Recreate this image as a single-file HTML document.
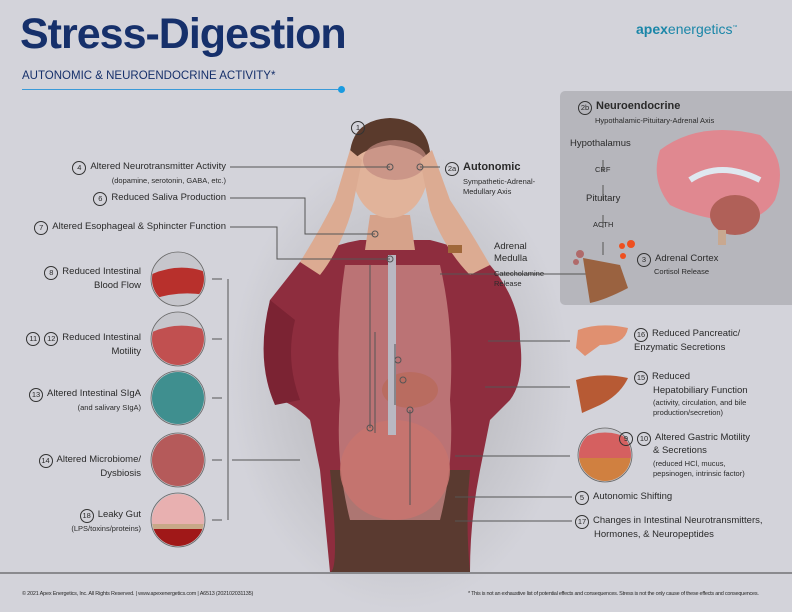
<!DOCTYPE html>
<html><head><meta charset="utf-8"><style>
body{margin:0;width:792px;height:612px;background:#d3d3da;font-family:"Liberation Sans",sans-serif;position:relative;overflow:hidden;color:#222}
.t{position:absolute;font-size:9.5px;line-height:11.5px;color:#2a2a2a;white-space:nowrap}
.s{font-size:7.5px;line-height:9.5px}
.r{text-align:right}
.n{display:inline-block;width:12px;height:12px;border:1px solid #333;border-radius:50%;font-size:7.5px;line-height:12px;text-align:center;margin-right:4px;vertical-align:-1px}
</style></head><body>
<div style="position:absolute;left:20px;top:10px;font-size:43px;font-weight:bold;color:#16306b;letter-spacing:-1px">Stress-Digestion</div>
<div style="position:absolute;left:22px;top:70px;font-size:11.5px;color:#16306b">AUTONOMIC &amp; NEUROENDOCRINE ACTIVITY*</div>
<div style="position:absolute;left:22px;top:89px;width:318px;height:1px;background:#3a9ad8"></div>
<div style="position:absolute;left:338px;top:86px;width:7px;height:7px;border-radius:50%;background:#1a9be0"></div>
<div style="position:absolute;left:636px;top:21px;font-size:14px;color:#1a86a8"><b>apex</b>energetics<sup style="font-size:5px">™</sup></div>
<div style="position:absolute;left:560px;top:91px;width:240px;height:214px;background:#b6b6bc;border-radius:5px"></div>

<svg width="792" height="612" style="position:absolute;left:0;top:0">
<defs><radialGradient id="sh" cx="50%" cy="50%" r="50%"><stop offset="0" stop-color="#888" stop-opacity=".5"/><stop offset="1" stop-color="#888" stop-opacity="0"/></radialGradient>
<clipPath id="c1"><circle cx="178" cy="279" r="26"/></clipPath>
<clipPath id="c2"><circle cx="178" cy="339" r="26"/></clipPath>
<clipPath id="c5"><circle cx="178" cy="520" r="26"/></clipPath>
<clipPath id="c6"><circle cx="605" cy="455" r="26"/></clipPath>
</defs>
<ellipse cx="400" cy="380" rx="170" ry="230" fill="url(#sh)"/>
<path d="M300 262 Q330 245 360 240 L430 240 Q470 250 490 265 Q520 300 520 340 Q525 380 510 400 L490 420 L480 470 Q470 520 470 572 L330 572 Q325 520 320 470 L310 420 Q290 400 275 400 Q260 360 270 300 Z" fill="#8e2d3e"/>
<path d="M270 300 Q255 360 275 405 L300 400 Q285 360 295 320 Z" fill="#7b2333"/>
<path d="M330 470 Q340 572 330 572 L470 572 Q465 520 470 470 Z" fill="#5a3a30"/>
<path d="M345 265 L440 265 Q455 330 450 400 Q455 460 440 520 L350 520 Q335 460 340 400 Q335 330 345 265Z" fill="#c98b88" opacity=".75"/>
<ellipse cx="395" cy="470" rx="55" ry="50" fill="#c8746f" opacity=".85"/>
<ellipse cx="410" cy="390" rx="28" ry="18" fill="#b96c60"/>
<rect x="388" y="255" width="8" height="180" fill="#b9b8c2"/>
<path d="M370 215 L410 215 L415 250 L365 250Z" fill="#d6a28a"/>
<ellipse cx="390" cy="170" rx="38" ry="48" fill="#e1b39a"/>
<path d="M350 170 Q345 120 390 118 Q435 120 430 170 Q428 150 390 145 Q352 150 350 170Z" fill="#5a3a2c"/>
<ellipse cx="395" cy="160" rx="32" ry="20" fill="#c28a80" opacity=".7"/>
<path d="M300 262 Q320 230 335 200 L350 150 L362 160 L352 210 Q340 250 320 275Z" fill="#dcab92"/>
<path d="M490 265 Q470 230 450 200 L432 150 L420 160 L430 210 Q445 250 470 275Z" fill="#dcab92"/>
<rect x="448" y="245" width="14" height="8" fill="#a0683a"/>
<rect x="0" y="572" width="792" height="2" fill="#8a8a8e"/>
<g stroke="#555" stroke-width="1" fill="none">
<path d="M230 167 H390"/><circle cx="390" cy="167" r="3"/>
<path d="M230 198 H305 V234 H375"/><circle cx="375" cy="234" r="3"/>
<path d="M230 227 H277 V259 H390"/><circle cx="390" cy="259" r="3"/>
<path d="M420 167 H440"/><circle cx="420" cy="167" r="3"/>
<path d="M370 265 V428"/><circle cx="370" cy="428" r="3"/>
<path d="M375 332 V433 M395 344 V405"/><circle cx="398" cy="360" r="3"/><circle cx="403" cy="380" r="3"/>
<path d="M410 410 V505"/><circle cx="410" cy="410" r="3"/>
<path d="M440 274 H594"/><circle cx="594" cy="274" r="3"/>
<path d="M488 341 H570 M485 387 H570 M455 456 H570 M455 497 H572 M455 521 H572"/>
<path d="M212 279 H222 M212 339 H222 M212 398 H222 M212 460 H222 M212 520 H222 M228 279 V520 M232 460 H300"/>
<path d="M603 160 V172 M603 185 V200 M603 215 V228 M603 242 V255"/>
</g>
<g stroke="#666" fill="#c6c6cc" stroke-width=".8">
<circle cx="178" cy="279" r="27"/><circle cx="178" cy="339" r="27"/><circle cx="178" cy="398" r="27"/><circle cx="178" cy="460" r="27"/><circle cx="178" cy="520" r="27"/><circle cx="605" cy="455" r="27"/>
</g>
<path clip-path="url(#c1)" d="M150 275 Q178 262 206 272 L206 295 Q178 290 150 300Z" fill="#b8302c"/>
<path clip-path="url(#c2)" d="M150 333 Q178 320 206 330 L206 370 L150 370Z" fill="#c15050"/>
<circle cx="178" cy="398" r="26" fill="#3f8f8f"/>
<circle cx="178" cy="460" r="26" fill="#b55a5a"/>
<g clip-path="url(#c5)"><rect x="150" y="492" width="56" height="36" fill="#e8b0b0"/><rect x="150" y="528" width="56" height="20" fill="#a01818"/><rect x="150" y="524" width="56" height="5" fill="#c8a888"/></g>
<g clip-path="url(#c6)"><path d="M578 440 Q605 425 632 440 L632 458 L578 462Z" fill="#d56060"/><rect x="578" y="458" width="56" height="26" fill="#d08040"/></g>
<path d="M578 330 Q600 322 628 328 Q625 345 600 345 L585 356 L576 348Z" fill="#e09070"/>
<path d="M576 380 Q600 372 628 378 Q620 395 600 405 L582 413 Z" fill="#b75a34"/>
<path d="M583 258 L620 265 L628 288 Q605 300 590 303 Z" fill="#9a6240"/>
<circle cx="631" cy="244" r="4" fill="#ee5020"/><circle cx="622" cy="246" r="3" fill="#ee5020"/><circle cx="623" cy="256" r="3" fill="#ee5020"/>
<circle cx="580" cy="254" r="4" fill="#b06a6a"/><circle cx="576" cy="262" r="3" fill="#b06a6a"/>
<path d="M660 150 Q700 120 760 135 Q790 160 775 200 Q760 225 720 220 Q690 215 670 205 Q650 180 660 150Z" fill="#e08890"/>
<ellipse cx="735" cy="215" rx="25" ry="20" fill="#b06058"/>
<rect x="718" y="230" width="8" height="15" fill="#c8a890"/>
<path d="M690 180 Q720 160 760 180" stroke="#dfe8f0" stroke-width="6" fill="none"/>
</svg>

<div class="t" style="left:351px;top:121px"><span class="n">1</span></div>
<div class="t r" style="right:566px;top:161px"><span class="n">4</span>Altered Neurotransmitter Activity<br><span class="s">(dopamine, serotonin, GABA, etc.)</span></div>
<div class="t r" style="right:566px;top:192px"><span class="n">6</span>Reduced Saliva Production</div>
<div class="t r" style="right:566px;top:221px"><span class="n">7</span>Altered Esophageal &amp; Sphincter Function</div>
<div class="t r" style="right:651px;top:266px"><span class="n">8</span>Reduced Intestinal<br>Blood Flow</div>
<div class="t r" style="right:651px;top:332px"><span class="n">11</span><span class="n">12</span>Reduced Intestinal<br>Motility</div>
<div class="t r" style="right:651px;top:388px"><span class="n">13</span>Altered Intestinal SIgA<br><span class="s">(and salivary SIgA)</span></div>
<div class="t r" style="right:651px;top:454px"><span class="n">14</span>Altered Microbiome/<br>Dysbiosis</div>
<div class="t r" style="right:651px;top:509px"><span class="n">18</span>Leaky Gut<br><span class="s">(LPS/toxins/proteins)</span></div>
<div class="t" style="left:445px;top:162px"><span class="n">2a</span><b style="font-size:11px">Autonomic</b></div>
<div class="t s" style="left:463px;top:177px">Sympathetic-Adrenal-<br>Medullary Axis</div>
<div class="t" style="left:494px;top:241px">Adrenal<br>Medulla</div>
<div class="t s" style="left:494px;top:269px">Catecholamine<br>Release</div>
<div class="t" style="left:578px;top:101px"><span class="n">2b</span><b style="font-size:11px">Neuroendocrine</b></div>
<div class="t s" style="left:595px;top:116px">Hypothalamic-Pituitary-Adrenal Axis</div>
<div class="t" style="left:570px;top:138px">Hypothalamus</div>
<div class="t s" style="left:595px;top:165px">CRF</div>
<div class="t" style="left:586px;top:193px">Pituitary</div>
<div class="t s" style="left:593px;top:220px">ACTH</div>
<div class="t" style="left:637px;top:253px"><span class="n">3</span>Adrenal Cortex</div>
<div class="t s" style="left:654px;top:267px">Cortisol Release</div>
<div class="t" style="left:634px;top:328px"><span class="n">16</span>Reduced Pancreatic/<br>Enzymatic Secretions</div>
<div class="t" style="left:634px;top:371px"><span class="n">15</span>Reduced<br><span style="margin-left:19px">Hepatobiliary Function</span></div>
<div class="t s" style="left:653px;top:398px">(activity, circulation, and bile<br>production/secretion)</div>
<div class="t" style="left:619px;top:432px"><span class="n">9</span><span class="n">10</span>Altered Gastric Motility</div>
<div class="t" style="left:653px;top:445px">&amp; Secretions</div>
<div class="t s" style="left:653px;top:459px">(reduced HCl, mucus,<br>pepsinogen, intrinsic factor)</div>
<div class="t" style="left:575px;top:491px"><span class="n">5</span>Autonomic Shifting</div>
<div class="t" style="left:575px;top:515px"><span class="n">17</span>Changes in Intestinal Neurotransmitters,<br><span style="margin-left:19px">Hormones, &amp; Neuropeptides</span></div>
<div class="t" style="left:22px;top:589px;font-size:5.5px;letter-spacing:-.2px">© 2021 Apex Energetics, Inc. All Rights Reserved. | www.apexenergetics.com | A6513 (202102031135)</div>
<div class="t" style="left:468px;top:589px;font-size:5.5px;letter-spacing:-.25px">* This is not an exhaustive list of potential effects and consequences. Stress is not the only cause of these effects and consequences.</div>
</body></html>
